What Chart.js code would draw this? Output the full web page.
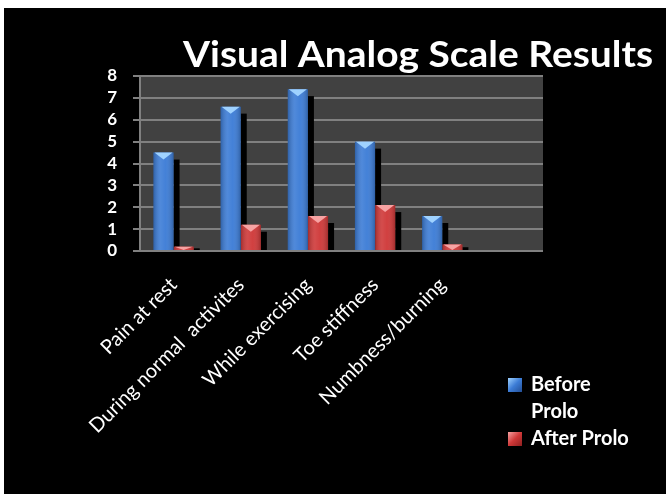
<!DOCTYPE html>
<html>
<head>
<meta charset="utf-8">
<script src="https://cdn.jsdelivr.net/npm/chart.js@4/dist/chart.umd.min.js"></script>
<style>
  html, body { margin: 0; padding: 0; background: #ffffff; }
  #wrap { position: absolute; left: 4px; top: 8px; width: 662px; height: 486px; background: #000; }
  canvas { display: block; }
</style>
</head>
<body>
<div id="wrap"><canvas id="c" width="662" height="486"></canvas></div>
<script>
// Visual Analog Scale scores, before and after prolotherapy
const chartTitle = 'Visual Analog Scale Results';
const categories = ['Pain at rest', 'During normal  activites', 'While exercising', 'Toe stiffness', 'Numbness/burning', ''];
const seriesNames = ['Before Prolo', 'After Prolo'];
const beforeProlo = [4.5, 6.6, 7.4, 5.0, 1.6, null];
const afterProlo = [0.2, 1.2, 1.6, 2.1, 0.3, null];
const yTicks = [0, 1, 2, 3, 4, 5, 6, 7, 8];

const FONT = 'Lato, "Open Sans", sans-serif';
const palette = [
  { body: '#3c7cd6', cap: '#9fd2ff', edge: '#234f96' },
  { body: '#cf3838', cap: '#f7a3a3', edge: '#8e2020' }
];

// Dark plot wall behind the bars
const wallPlugin = {
  id: 'wall',
  beforeDraw(chart) {
    const { ctx, chartArea: a } = chart;
    ctx.save();
    ctx.fillStyle = '#414141';
    ctx.fillRect(a.left, a.top, a.right - a.left, a.bottom - a.top);
    ctx.restore();
  }
};

// Side faces (black) behind each bar, then shading and top caps on top
const bar3dPlugin = {
  id: 'bar3d',
  beforeDatasetsDraw(chart) {
    const ctx = chart.ctx;
    ctx.save();
    ctx.fillStyle = '#000';
    chart.data.datasets.forEach((ds, di) => {
      chart.getDatasetMeta(di).data.forEach(bar => {
        if (bar.skip || isNaN(bar.y)) return;
        const right = bar.x + bar.width / 2;
        const h = bar.base - bar.y;
        const drop = Math.min(7, h * 0.5);
        ctx.fillRect(right, bar.y + drop, 6, bar.base - bar.y - drop);
      });
    });
    ctx.restore();
  },
  afterDatasetsDraw(chart) {
    const ctx = chart.ctx;
    ctx.save();
    chart.data.datasets.forEach((ds, di) => {
      const col = palette[di];
      chart.getDatasetMeta(di).data.forEach(bar => {
        if (bar.skip || isNaN(bar.y)) return;
        const l = bar.x - bar.width / 2, r = bar.x + bar.width / 2;
        const h = bar.base - bar.y;
        const g = ctx.createLinearGradient(l, 0, r, 0);
        g.addColorStop(0, 'rgba(0,0,0,0.22)');
        g.addColorStop(0.35, 'rgba(255,255,255,0.10)');
        g.addColorStop(0.6, 'rgba(255,255,255,0.04)');
        g.addColorStop(1, 'rgba(0,0,0,0.22)');
        ctx.fillStyle = g;
        ctx.fillRect(l, bar.y, r - l, h);
        const capH = Math.min(7, h);
        ctx.fillStyle = col.cap;
        ctx.beginPath();
        ctx.moveTo(l + 1, bar.y);
        ctx.lineTo(r - 1, bar.y);
        ctx.lineTo(bar.x, bar.y + capH);
        ctx.closePath();
        ctx.fill();
      });
    });
    ctx.restore();
  }
};

// Title, condensed to its set width
const titlePlugin = {
  id: 'vasTitle',
  afterDraw(chart) {
    const ctx = chart.ctx;
    ctx.save();
    ctx.font = 'bold 37px ' + FONT;
    ctx.fillStyle = '#ffffff';
    ctx.textBaseline = 'alphabetic';
    const w = ctx.measureText(chartTitle).width;
    const target = 470;
    ctx.translate(179, 59);
    ctx.scale(target / w, 1);
    ctx.fillText(chartTitle, 0, 0);
    ctx.restore();
  }
};

// Legend at lower right, wrapping long names
const legendPlugin = {
  id: 'vasLegend',
  afterDraw(chart) {
    const ctx = chart.ctx;
    ctx.save();
    ctx.font = 'bold 20px ' + FONT;
    ctx.textBaseline = 'middle';
    const x0 = 504, textX = 527, lineH = 27, maxW = 103;
    let y = 377;
    chart.data.datasets.forEach((ds, di) => {
      const col = palette[di];
      const g = ctx.createLinearGradient(x0, y - 7, x0 + 14, y + 7);
      g.addColorStop(0, col.cap);
      g.addColorStop(0.5, col.body);
      g.addColorStop(1, col.edge);
      ctx.fillStyle = g;
      ctx.fillRect(x0, y - 7, 14, 14);
      const words = ds.label.split(' ');
      const lines = [];
      let cur = '';
      words.forEach(wd => {
        const t = cur ? cur + ' ' + wd : wd;
        if (cur && ctx.measureText(t).width > maxW) { lines.push(cur); cur = wd; }
        else cur = t;
      });
      lines.push(cur);
      ctx.fillStyle = '#ffffff';
      lines.forEach(line => { ctx.fillText(line, textX, y); y += lineH; });
    });
    ctx.restore();
  }
};

new Chart(document.getElementById('c'), {
  type: 'bar',
  data: {
    labels: categories,
    datasets: [
      { label: seriesNames[0], data: beforeProlo, backgroundColor: palette[0].body },
      { label: seriesNames[1], data: afterProlo, backgroundColor: palette[1].body }
    ]
  },
  options: {
    responsive: false,
    animation: false,
    devicePixelRatio: 1,
    layout: { padding: { left: 0, right: 123, top: 68, bottom: 0 } },
    datasets: { bar: { categoryPercentage: 0.6, barPercentage: 1.0, borderWidth: 0 } },
    plugins: { legend: { display: false }, title: { display: false }, tooltip: { enabled: false } },
    scales: {
      x: {
        grid: { display: false, drawTicks: false },
        border: { display: false },
        ticks: {
          color: '#ffffff',
          font: { family: FONT, size: 20 },
          minRotation: 45, maxRotation: 45,
          autoSkip: false,
          padding: 22
        },
        afterFit(s) { s.height = 243; }
      },
      y: {
        min: 0, max: 8,
        afterBuildTicks(s) { s.ticks = yTicks.map(v => ({ value: v })); },
        grid: { color: '#808080', lineWidth: 2, tickLength: 7, drawTicks: true },
        border: { display: true, color: '#808080', width: 2 },
        ticks: {
          color: '#ffffff',
          font: { family: FONT, size: 17, weight: 'bold' },
          padding: 16,
          autoSkip: false,
          stepSize: 1
        },
        afterFit(s) { s.width = 136; }
      }
    }
  },
  plugins: [wallPlugin, bar3dPlugin, titlePlugin, legendPlugin]
});
</script>
</body>
</html>
